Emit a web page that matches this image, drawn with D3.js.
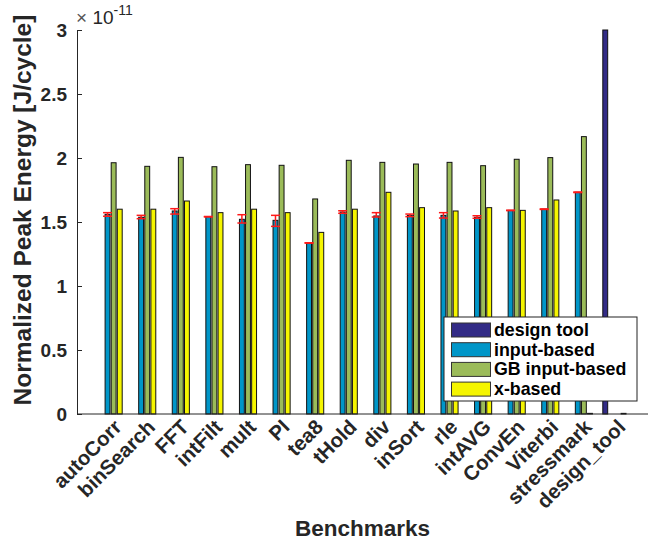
<!DOCTYPE html>
<html>
<head>
<meta charset="utf-8">
<script src="https://cdn.jsdelivr.net/npm/d3@7"></script>
<style>
  html, body { margin: 0; padding: 0; background: #fff; }
  svg { display: block; font-family: "Liberation Sans", Arial, Helvetica, sans-serif; }
</style>
</head>
<body>
<svg id="chart" width="656" height="541"></svg>
<script>
// Benchmarks on the x axis
const categories = ["autoCorr", "binSearch", "FFT", "intFilt", "mult", "PI", "tea8", "tHold",
  "div", "inSort", "rle", "intAVG", "ConvEn", "Viterbi", "stressmark", "design_tool"];

// Series names (legend order)
const seriesNames = ["design tool", "input-based", "GB input-based", "x-based"];

// Normalized peak energy, in units of 1e-11 J/cycle
const designTool   = [0, 0, 0, 0, 0, 0, 0, 0, 0, 0, 0, 0, 0, 0, 0, 3.0];
const inputBased   = [1.56, 1.537, 1.586, 1.542, 1.521, 1.513, 1.333, 1.578,
                      1.547, 1.552, 1.552, 1.537, 1.591, 1.600, 1.732, 0];
const gbInputBased = [1.963, 1.935, 2.005, 1.932, 1.948, 1.943, 1.680, 1.982,
                      1.966, 1.953, 1.966, 1.940, 1.990, 2.003, 2.167, 0];
const xBased       = [1.600, 1.600, 1.664, 1.573, 1.600, 1.573, 1.419, 1.600,
                      1.732, 1.612, 1.586, 1.612, 1.591, 1.672, 0.005, 0.005];

// Error range of the input-based estimate
const errLow  = [1.545, 1.526, 1.562, 1.540, 1.492, 1.466, 1.335, 1.568,
                 1.539, 1.542, 1.531, 1.529, 1.589, 1.598, 1.730, null];
const errHigh = [1.573, 1.552, 1.604, 1.543, 1.557, 1.552, 1.338, 1.588,
                 1.573, 1.562, 1.573, 1.549, 1.592, 1.602, 1.734, null];

const yTicks = [0, 0.5, 1, 1.5, 2, 2.5, 3];
const yTickLabels = ["0", "0.5", "1", "1.5", "2", "2.5", "3"];

const seriesValues = [designTool, inputBased, gbInputBased, xBased];
const seriesColors = ["#322b86", "#0096c8", "#9bbb59", "#f5f500"];

const axisColor = "#262626";
const svg = d3.select("#chart");

const plotLeft = 77, plotRight = 648, plotTop = 30, plotBottom = 414;

const x = d3.scaleLinear().domain([0, categories.length + 1]).range([plotLeft, plotRight]);
const y = d3.scaleLinear().domain([0, 3]).range([plotBottom, plotTop]);

// Grouped bar geometry (4 bars per group)
const nSeries = seriesValues.length;
const groupWidth = Math.min(0.8, nSeries / (nSeries + 1.5));
const barW = 0.8 * groupWidth / nSeries;
const offset = k => -groupWidth / 2 + (2 * k + 1) * groupWidth / (2 * nSeries);

const bars = svg.append("g");
seriesValues.forEach((vals, k) => {
  bars.selectAll(null)
    .data(vals.map((v, i) => ({ v, i })))
    .join("rect")
    .attr("x", d => x(d.i + 1 + offset(k) - barW / 2))
    .attr("width", x(barW) - x(0))
    .attr("y", d => y(Math.max(0, d.v)))
    .attr("height", d => y(0) - y(Math.max(0, d.v)))
    .attr("fill", seriesColors[k])
    .attr("stroke", "#111")
    .attr("stroke-width", 1);
});

// Error bars on the input-based series
const errG = svg.append("g").attr("stroke", "#ff1a1a").attr("stroke-width", 1.5);
const capHalf = 4.5;
categories.forEach((c, i) => {
  if (errLow[i] == null) return;
  const cx = x(i + 1 + offset(1));
  errG.append("line").attr("x1", cx).attr("x2", cx).attr("y1", y(errLow[i])).attr("y2", y(errHigh[i]));
  errG.append("line").attr("x1", cx - capHalf).attr("x2", cx + capHalf).attr("y1", y(errLow[i])).attr("y2", y(errLow[i]));
  errG.append("line").attr("x1", cx - capHalf).attr("x2", cx + capHalf).attr("y1", y(errHigh[i])).attr("y2", y(errHigh[i]));
});

// Axes (MATLAB style: ticks pointing inward, no box)
const yAxis = d3.axisLeft(y).tickValues(yTicks).tickSizeInner(-5).tickSizeOuter(0)
  .tickFormat((d, i) => yTickLabels[i]).tickPadding(10);
const yg = svg.append("g").attr("transform", `translate(${plotLeft},0)`).call(yAxis);
yg.select(".domain").attr("stroke", axisColor).attr("stroke-width", 1);
yg.selectAll(".tick line").attr("stroke", axisColor);
yg.selectAll(".tick text")
  .attr("font-size", 19).attr("font-weight", "bold").attr("fill", axisColor)
  .attr("font-family", "'Liberation Sans', Arial, sans-serif");

svg.append("line").attr("x1", plotLeft).attr("x2", plotRight).attr("y1", plotBottom).attr("y2", plotBottom)
  .attr("stroke", axisColor).attr("stroke-width", 1);

// Category labels, rotated 45 degrees
svg.append("g").selectAll("text")
  .data(categories)
  .join("text")
  .attr("transform", (d, i) => `translate(${x(i + 1) + 7},${plotBottom + 9}) rotate(-45)`)
  .attr("text-anchor", "end")
  .attr("dominant-baseline", "central")
  .attr("font-size", 20.5).attr("font-weight", "bold").attr("fill", axisColor)
  .text(d => d);

// Exponent marker
const expo = svg.append("text").attr("x", 76).attr("y", 24).attr("fill", axisColor).attr("font-size", 19);
expo.append("tspan").text("\u00d7").attr("font-weight", "normal").attr("fill", "#555");
expo.append("tspan").text(" 10").attr("font-weight", "normal");
expo.append("tspan").text("-11").attr("font-size", 14).attr("dy", -9);

// Axis titles
svg.append("text")
  .attr("transform", `translate(22,210) rotate(-90)`)
  .attr("text-anchor", "middle").attr("dominant-baseline", "central")
  .attr("font-size", 24.5).attr("font-weight", "bold").attr("fill", axisColor)
  .text("Normalized Peak Energy [J/cycle]");

svg.append("text")
  .attr("x", (plotLeft + plotRight) / 2).attr("y", 536)
  .attr("text-anchor", "middle")
  .attr("font-size", 22.5).attr("font-weight", "bold").attr("fill", axisColor)
  .text("Benchmarks");

// Legend
const lg = svg.append("g").attr("transform", "translate(444,317)");
lg.append("rect").attr("width", 193).attr("height", 84)
  .attr("fill", "#fff").attr("stroke", "#222").attr("stroke-width", 1);
seriesNames.forEach((name, k) => {
  const row = lg.append("g").attr("transform", `translate(0,${13 + k * 19.7})`);
  row.append("rect").attr("x", 7.5).attr("y", -7).attr("width", 39).attr("height", 14)
    .attr("fill", seriesColors[k]).attr("stroke", "#333").attr("stroke-width", 1);
  row.append("text").attr("x", 50).attr("y", 0).attr("dominant-baseline", "central")
    .attr("font-size", 17.8).attr("font-weight", "bold").attr("fill", "#000")
    .text(name);
});
</script>
</body>
</html>
